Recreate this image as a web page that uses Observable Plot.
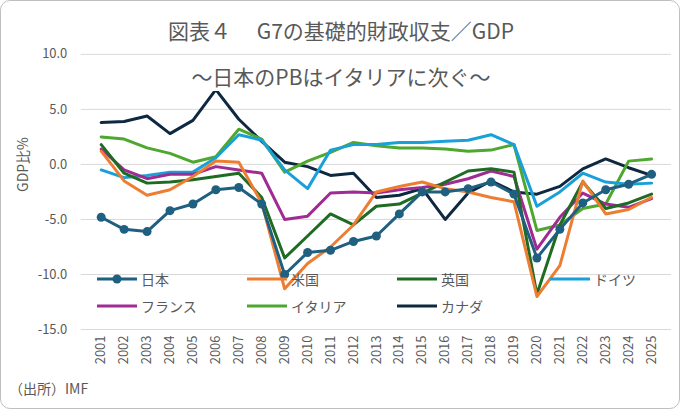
<!DOCTYPE html>
<html><head><meta charset="utf-8">
<script src="https://cdn.jsdelivr.net/npm/d3@7"></script>
<script src="https://cdn.jsdelivr.net/npm/@observablehq/plot@0.6"></script>
<style>
body{margin:0;font-family:"Noto Sans CJK JP",sans-serif;color:#595959;}
#wrap{position:relative;width:678px;height:407px;border:1px solid #bfbfbf;border-radius:10px;overflow:hidden;background:#fff}
.t{position:absolute;left:0;width:680px;text-align:center;font-size:21px;color:#595959}
.lg{position:absolute;font-size:14px;display:flex;align-items:center;gap:3px;color:#595959}
#cap{position:absolute;left:8px;top:377px;font-size:14px}
</style></head><body>
<div id="wrap"><div id="chart"></div>
<div class="t" style="top:14px">図表４　 G7の基礎的財政収支／GDP</div>
<div class="t" style="top:60px;background:none"><span style="background:#fff;padding:0 4px">～日本のPBはイタリアに次ぐ～</span></div>
<div id="legend"></div>
<div id="cap">（出所）IMF</div>
</div>
<script>
const years = d3.range(2001, 2026);
const japan   = [-4.8,-5.9,-6.1,-4.2,-3.6,-2.3,-2.1,-3.6,-10.0,-8.0,-7.8,-7.0,-6.5,-4.5,-2.5,-2.5,-2.2,-1.6,-2.7,-8.5,-5.9,-3.5,-2.3,-1.8,-0.9];
const us      = [1.2,-1.5,-2.8,-2.3,-1.1,0.3,0.2,-3.5,-11.3,-9.0,-7.5,-5.5,-2.5,-2.0,-1.6,-2.2,-2.5,-3.0,-3.4,-12.0,-9.2,-1.5,-4.5,-4.1,-3.0];
const uk      = [1.8,-0.8,-1.7,-1.6,-1.4,-1.1,-0.8,-3.0,-8.5,-6.5,-4.5,-5.5,-3.8,-3.6,-2.6,-1.6,-0.6,-0.4,-0.7,-11.8,-5.5,-1.6,-4.0,-3.5,-2.7];
const france  = [1.4,-0.5,-1.3,-0.9,-0.9,-0.2,-0.5,-0.8,-5.0,-4.7,-2.6,-2.5,-2.6,-2.3,-2.1,-1.8,-1.3,-0.6,-1.1,-7.7,-4.8,-2.6,-3.6,-3.9,-3.1];
const italy   = [2.5,2.3,1.5,1.0,0.2,0.7,3.2,2.3,-0.7,0.3,1.1,2.0,1.7,1.5,1.5,1.4,1.2,1.3,1.8,-6.0,-5.5,-4.0,-3.6,0.3,0.5];
const germany = [-0.5,-1.2,-1.0,-0.7,-0.7,0.6,2.7,2.2,-0.5,-2.2,1.3,1.8,1.8,2.0,2.0,2.1,2.2,2.7,1.8,-3.8,-2.5,-0.8,-1.6,-1.8,-1.7];
const canada  = [3.8,3.9,4.4,2.8,4.0,6.8,4.1,2.1,0.2,-0.2,-1.0,-0.8,-3.0,-2.8,-2.2,-5.0,-2.6,-1.5,-2.5,-2.7,-2.0,-0.4,0.5,-0.3,-1.0];
const series = [
  ["日本", japan, "#1f5f80"], ["米国", us, "#ed7d31"], ["英国", uk, "#1e6b24"], ["ドイツ", germany, "#1aa0d8"],
  ["フランス", france, "#a02b93"], ["イタリア", italy, "#4ea72e"], ["カナダ", canada, "#0e2841"]
];
const drawOrder = ["カナダ","イタリア","ドイツ","フランス","英国","米国","日本"];
const rows = [];
for (const [name, vals, c] of series) vals.forEach((v,i)=>rows.push({name, year:String(years[i]), v}));
const colorMap = Object.fromEntries(series.map(s=>[s[0],s[2]]));
const marks = [Plot.gridY([10,5,0,-5,-10,-15],{stroke:"#d9d9d9",strokeOpacity:1})];
for (const n of drawOrder) marks.push(Plot.line(rows.filter(r=>r.name===n),{x:"year",y:"v",stroke:colorMap[n],strokeWidth:3}));
marks.push(Plot.dot(rows.filter(r=>r.name==="日本"),{x:"year",y:"v",fill:"#1f5f80",r:4.5}));
marks.push(Plot.axisY({ticks:[10,5,0,-5,-10,-15],tickFormat:d=>d.toFixed(1),tickSize:0,tickPadding:14,label:null,fontSize:13}));
marks.push(Plot.axisX({tickRotate:-90,tickSize:0,label:null,fontSize:13,tickPadding:6}));
marks.push(Plot.text(["GDP比%"],{frameAnchor:"left",dx:-58,rotate:-90,fontSize:14,fill:"#595959"}));
const chart = Plot.plot({
  width:680,height:409,marginLeft:80,marginRight:8,marginTop:53,marginBottom:80,
  style:{fontFamily:"Noto Sans CJK JP",color:"#595959",background:"transparent",fontSize:"13px"},
  x:{type:"point",domain:years.map(String),padding:0.5},
  y:{domain:[-15,10]},
  marks
});
document.getElementById("chart").appendChild(chart);
const pos = {"日本":[95,268],"米国":[245,268],"英国":[395,268],"ドイツ":[548,268],"フランス":[95,295],"イタリア":[245,295],"カナダ":[395,295]};
const lg = document.getElementById("legend");
for (const [n,,c] of series){
  const d=document.createElement("div");d.className="lg";d.style.left=pos[n][0]+"px";d.style.top=pos[n][1]+"px";
  d.innerHTML=`<svg width="42" height="14"><line x1="1" y1="7" x2="41" y2="7" stroke="${c}" stroke-width="3"/>${n==="日本"?`<circle cx="21" cy="7" r="4.5" fill="${c}"/>`:""}</svg><span>${n}</span>`;
  lg.appendChild(d);
}
</script></body></html>
